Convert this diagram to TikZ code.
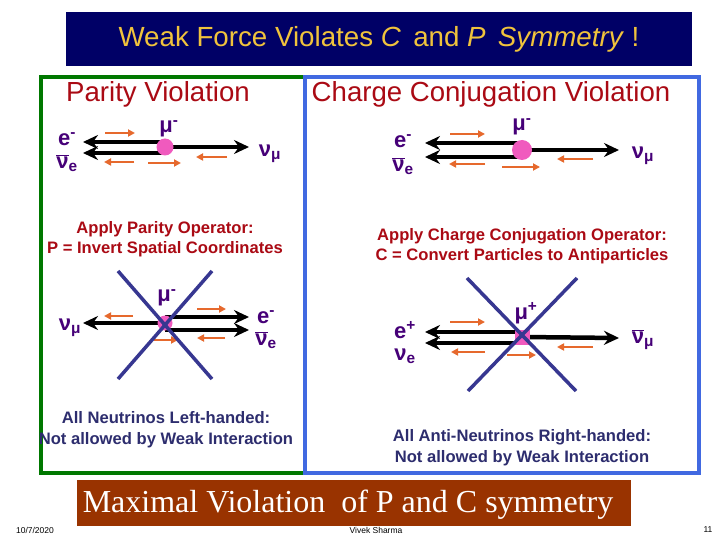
\documentclass[tikz,border=0pt]{standalone}
\usepackage{fontspec}
\setmainfont{Liberation Sans}
\newfontfamily\bannerfont{Liberation Serif}
\usetikzlibrary{arrows.meta}

\definecolor{titleblue}{RGB}{0,0,102}
\definecolor{titleyellow}{RGB}{240,195,60}
\definecolor{headred}{RGB}{170,10,20}
\definecolor{textnavy}{RGB}{45,45,110}
\definecolor{partpurple}{RGB}{70,0,120}
\definecolor{vetoblue}{RGB}{55,55,145}
\definecolor{spinorange}{RGB}{230,105,45}
\definecolor{muonpink}{RGB}{240,90,190}
\definecolor{boxgreen}{RGB}{0,120,0}
\definecolor{boxblue}{RGB}{65,105,225}
\definecolor{bannerbrown}{RGB}{153,51,0}

\newcommand{\antinu}{$\overline{\mbox{ν}}$}

\tikzset{
  track/.style={line width=4.5pt, -{Stealth[length=15pt,width=14pt,inset=5pt]}},
  spin/.style={spinorange, line width=2.6pt, -{Triangle[length=7pt,width=7pt]}},
  veto/.style={vetoblue, line width=3.5pt},
  muon/.style={circle, fill=muonpink, minimum size=17pt, inner sep=0pt},
  particle/.style={text=partpurple, inner sep=0pt, font=\bfseries\fontsize{22}{22}\selectfont},
  operator/.style={text=headred, align=center, font=\bfseries\fontsize{16.6}{20}\selectfont},
  verdict/.style={text=textnavy, align=center, font=\bfseries\fontsize{16.6}{21}\selectfont},
  heading/.style={text=headred, font=\fontsize{27.6}{30}\selectfont}
}

\begin{document}
\begin{tikzpicture}[x=1pt, y=-1pt]
  \useasboundingbox (0,0) rectangle (720,540);
  \fill[white] (0,0) rectangle (720,540);

  % title bar
  \fill[titleblue] (66,12) rectangle (692,66);
  \node[text=titleyellow, font=\fontsize{27.7}{30}\selectfont] (title) at (379,39)
    {Weak Force Violates \textit{C}\, and \textit{P}\, \textit{Symmetry} !};

  % frames
  \draw[boxgreen, line width=3.5pt] (305,77) -- (41,77) -- (41,473) -- (305,473);
  \draw[boxblue, line width=3.5pt] (305,77) rectangle (699,473);
  \node[heading] (parity) at (158,94) {Parity Violation};
  \node[heading] (charge) at (491,94) {Charge Conjugation Violation};

  % parity: before
  \coordinate (m1) at (165,147);
  \coordinate (a1) at (83,142);
  \coordinate (b1) at (83,153);
  \coordinate (c1) at (249,147);
  \draw[track] ([yshift=5pt]m1) -- (a1);
  \draw[track] ([yshift=-6pt]m1) -- (b1);
  \draw[track] (m1) -- (c1);
  \node[muon] (mu1) at (m1) {};
  \draw[spin] (105,133) -- (135,133);
  \draw[spin] (134,162) -- (104,162);
  \draw[spin] (148,163) -- (181,163);
  \draw[spin] (227,157) -- (196,157);
  \node[particle] (e1) at (67,139) {e\textsuperscript{-}};
  \node[particle] (n1) at (67,163) {\antinu\textsubscript{e}};
  \node[particle] (u1) at (169,129) {μ\textsuperscript{-}};
  \node[particle] (v1) at (270,154) {ν\textsubscript{μ}};

  \node[operator] (pop) at (165,239) {Apply Parity Operator:\\P = Invert Spatial Coordinates};

  % parity: after
  \coordinate (m2) at (165,323);
  \coordinate (a2) at (83,323);
  \coordinate (b2) at (249,317);
  \coordinate (c2) at (249,330);
  \draw[track] (m2) -- (a2);
  \draw[track] ([yshift=6pt]m2) -- (b2);
  \draw[track] ([yshift=-7pt]m2) -- (c2);
  \node[muon, minimum size=15pt] (mu2) at (m2) {};
  \draw[spin] (133,316) -- (104,316);
  \draw[spin] (197,309) -- (226,309);
  \draw[spin] (154,340) -- (178,340);
  \draw[spin] (225,338) -- (197,338);
  \draw[veto] (118,271) -- (212,379);
  \draw[veto] (212,271) -- (118,379);
  \node[particle] (v2) at (70,328) {ν\textsubscript{μ}};
  \node[particle] (u2) at (167,298) {μ\textsuperscript{-}};
  \node[particle] (e2) at (266,317) {e\textsuperscript{-}};
  \node[particle] (n2) at (266,340) {\antinu\textsubscript{e}};

  \node[verdict] (lh) at (166,430) {All Neutrinos Left-handed:\\Not allowed by Weak Interaction};

  % charge conjugation: before
  \coordinate (m3) at (522,150);
  \coordinate (a3) at (425,143);
  \coordinate (b3) at (425,157);
  \coordinate (c3) at (619,150);
  \draw[track] ([yshift=7pt]m3) -- (a3);
  \draw[track] ([yshift=-7pt]m3) -- (b3);
  \draw[track] (m3) -- (c3);
  \node[muon, minimum size=20pt] (mu3) at (m3) {};
  \draw[spin] (450,134) -- (485,134);
  \draw[spin] (485,164) -- (449,164);
  \draw[spin] (502,167) -- (540,167);
  \draw[spin] (593,159) -- (557,159);
  \node[particle] (e3) at (403,141) {e\textsuperscript{-}};
  \node[particle] (n3) at (403,166) {\antinu\textsubscript{e}};
  \node[particle] (u3) at (522,127) {μ\textsuperscript{-}};
  \node[particle] (v3) at (643,156) {ν\textsubscript{μ}};

  \node[operator] (cop) at (522,246) {Apply Charge Conjugation Operator:\\C = Convert Particles to Antiparticles};

  % charge conjugation: after
  \coordinate (m4) at (522,337);
  \coordinate (a4) at (425,332);
  \coordinate (b4) at (425,343);
  \coordinate (c4) at (619,338);
  \draw[track] ([yshift=5pt]m4) -- (a4);
  \draw[track] ([yshift=-6pt]m4) -- (b4);
  \draw[track] (m4) -- (c4);
  \node[muon, rectangle, minimum size=15pt] (mu4) at (m4) {};
  \draw[spin] (450,322) -- (485,322);
  \draw[spin] (485,352) -- (451,352);
  \draw[spin] (507,355) -- (536,355);
  \draw[spin] (593,347) -- (557,347);
  \draw[veto] (467,278) -- (576,391);
  \draw[veto] (577,278) -- (468,391);
  \node[particle] (e4) at (405,330) {e\textsuperscript{+}};
  \node[particle] (n4) at (405,356) {ν\textsubscript{e}};
  \node[particle] (u4) at (526,313) {μ\textsuperscript{+}};
  \node[particle] (v4) at (643,340) {\antinu\textsubscript{μ}};

  \node[verdict] (rh) at (522,448) {All Anti-Neutrinos Right-handed:\\Not allowed by Weak Interaction};

  % banner and footer
  \fill[bannerbrown] (77,480) rectangle (631,526);
  \node[text=white, font=\bannerfont\fontsize{32}{34}\selectfont] (banner) at (348,505)
    {Maximal Violation\ \ of P and C symmetry};
  \node[font=\fontsize{8.5}{9}\selectfont] (date) at (35,530) {10/7/2020};
  \node[font=\fontsize{8.5}{9}\selectfont] (author) at (376,530) {Vivek Sharma};
  \node[font=\fontsize{8.5}{9}\selectfont] (page) at (708,530) {11};
\end{tikzpicture}
\end{document}
